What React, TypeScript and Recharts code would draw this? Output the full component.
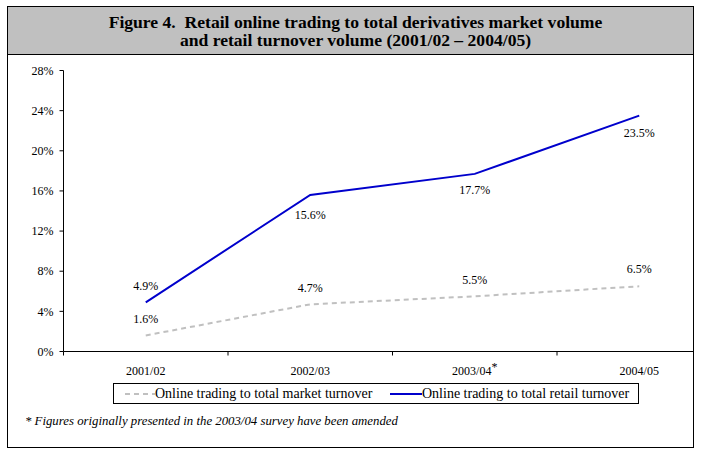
import React from 'react';
import { LineChart, Line, XAxis, YAxis, Legend } from 'recharts';

const periods = ['2001/02', '2002/03', '2003/04*', '2004/05'];
const marketShare = [1.6, 4.7, 5.5, 6.5];
const retailShare = [4.9, 15.6, 17.7, 23.5];
const yTicks = [0, 4, 8, 12, 16, 20, 24, 28];

const marketName = 'Online trading to total market turnover';
const retailName = 'Online trading to total retail turnover';

const data = periods.map((p, i) => ({
  period: p,
  market: marketShare[i],
  retail: retailShare[i],
}));

const serif = '"Liberation Serif", "Times New Roman", serif';
const BLUE = '#0000CC';
const GREY = '#C0C0C0';
const BAND = 164.5;

const XTick = (props: any) => {
  const { x, y, payload } = props;
  const label: string = payload.value;
  const star = label.endsWith('*');
  const text = star ? label.slice(0, -1) : label;
  return (
    <g>
      <line x1={x - BAND / 2} x2={x - BAND / 2} y1={y - 15} y2={y - 11} stroke="#000" />
      <text x={x} y={y} dy="0.71em" textAnchor="middle" fontFamily={serif} fontSize={12} fill="#000">
        {text}
        {star && (
          <tspan dy="-4" fontSize={12}>
            *
          </tspan>
        )}
      </text>
    </g>
  );
};

const makeLabel = (offsets: number[]) => (props: any) => {
  const { x, y, value, index } = props;
  return (
    <text
      key={index}
      x={x}
      y={y + offsets[index]}
      textAnchor="middle"
      dominantBaseline="central"
      fontFamily={serif}
      fontSize={12}
      fill="#000"
    >
      {Number(value).toFixed(1)}%
    </text>
  );
};

const renderLegend = () => (
  <div
    style={{
      boxSizing: 'border-box',
      border: '1px solid #000',
      height: 21,
      width: 526,
      position: 'relative',
      fontFamily: serif,
      fontSize: 14,
      background: '#fff',
    }}
  >
    <svg width={30} height={19} style={{ position: 'absolute', left: 11, top: 0 }}>
      <line x1={0} x2={30} y1={10} y2={10} stroke={GREY} strokeWidth={2} strokeDasharray="5 4" />
    </svg>
    <span style={{ position: 'absolute', left: 41, top: 0, lineHeight: '19px', whiteSpace: 'nowrap' }}>
      {marketName}
    </span>
    <svg width={32} height={19} style={{ position: 'absolute', left: 276, top: 0 }}>
      <line x1={0} x2={32} y1={10} y2={10} stroke={BLUE} strokeWidth={2} />
    </svg>
    <span style={{ position: 'absolute', left: 308, top: 0, lineHeight: '19px', whiteSpace: 'nowrap' }}>
      {retailName}
    </span>
  </div>
);

export default function App() {
  return (
    <div
      style={{
        position: 'absolute',
        left: 7,
        top: 6,
        width: 687,
        height: 442,
        boxSizing: 'border-box',
        border: '1px solid #000',
        overflow: 'hidden',
        background: '#fff',
      }}
    >
      <div
        style={{
          position: 'absolute',
          left: 0,
          top: 0,
          right: 0,
          height: 48,
          background: GREY,
          borderBottom: '1px solid #000',
          fontFamily: serif,
          fontWeight: 'bold',
          fontSize: 17.6,
          lineHeight: '18px',
          textAlign: 'center',
          whiteSpace: 'pre',
          paddingTop: 6,
          paddingLeft: 10,
          boxSizing: 'border-box',
          color: '#000',
          zIndex: 2,
        }}
      >
        {'Figure 4.  Retail online trading to total derivatives market volume\nand retail turnover volume (2001/02 \u2013 2004/05)'}
      </div>
      <div style={{ position: 'absolute', left: 0, top: 0 }}>
        <LineChart
          width={760}
          height={421}
          data={data}
          margin={{ top: 63.5, right: 46.5, left: 0, bottom: 0 }}
        >
          <XAxis
            dataKey="period"
            scale="band"
            interval={0}
            axisLine={{ stroke: '#000' }}
            tickLine={false}
            tickSize={4}
            tickMargin={11}
            height={55.5}
            tick={<XTick />}
          />
          <YAxis
            domain={[0, 28]}
            ticks={yTicks}
            interval={0}
            width={55.5}
            axisLine={{ stroke: '#000' }}
            tickLine={{ stroke: '#000' }}
            tickSize={4}
            tickMargin={6}
            tickFormatter={(v: number) => `${v}%`}
            tick={{ fontFamily: serif, fontSize: 12, fill: '#000' }}
          />
          <Legend
            content={renderLegend}
            wrapperStyle={{ position: 'absolute', left: 105, top: 376, width: 526 }}
          />
          <Line
            dataKey="market"
            name={marketName}
            stroke={GREY}
            strokeWidth={2}
            strokeDasharray="5 4"
            dot={false}
            isAnimationActive={false}
            label={makeLabel([-16, -16, -16, -17])}
          />
          <Line
            dataKey="retail"
            name={retailName}
            stroke={BLUE}
            strokeWidth={2}
            dot={false}
            isAnimationActive={false}
            label={makeLabel([-16, 20, 16, 17])}
          />
        </LineChart>
      </div>
      <div
        style={{
          position: 'absolute',
          left: 17,
          top: 406,
          fontFamily: serif,
          fontStyle: 'italic',
          fontSize: 12.8,
          lineHeight: '16px',
          whiteSpace: 'nowrap',
          color: '#000',
        }}
      >
        * Figures originally presented in the 2003/04 survey have been amended
      </div>
    </div>
  );
}
